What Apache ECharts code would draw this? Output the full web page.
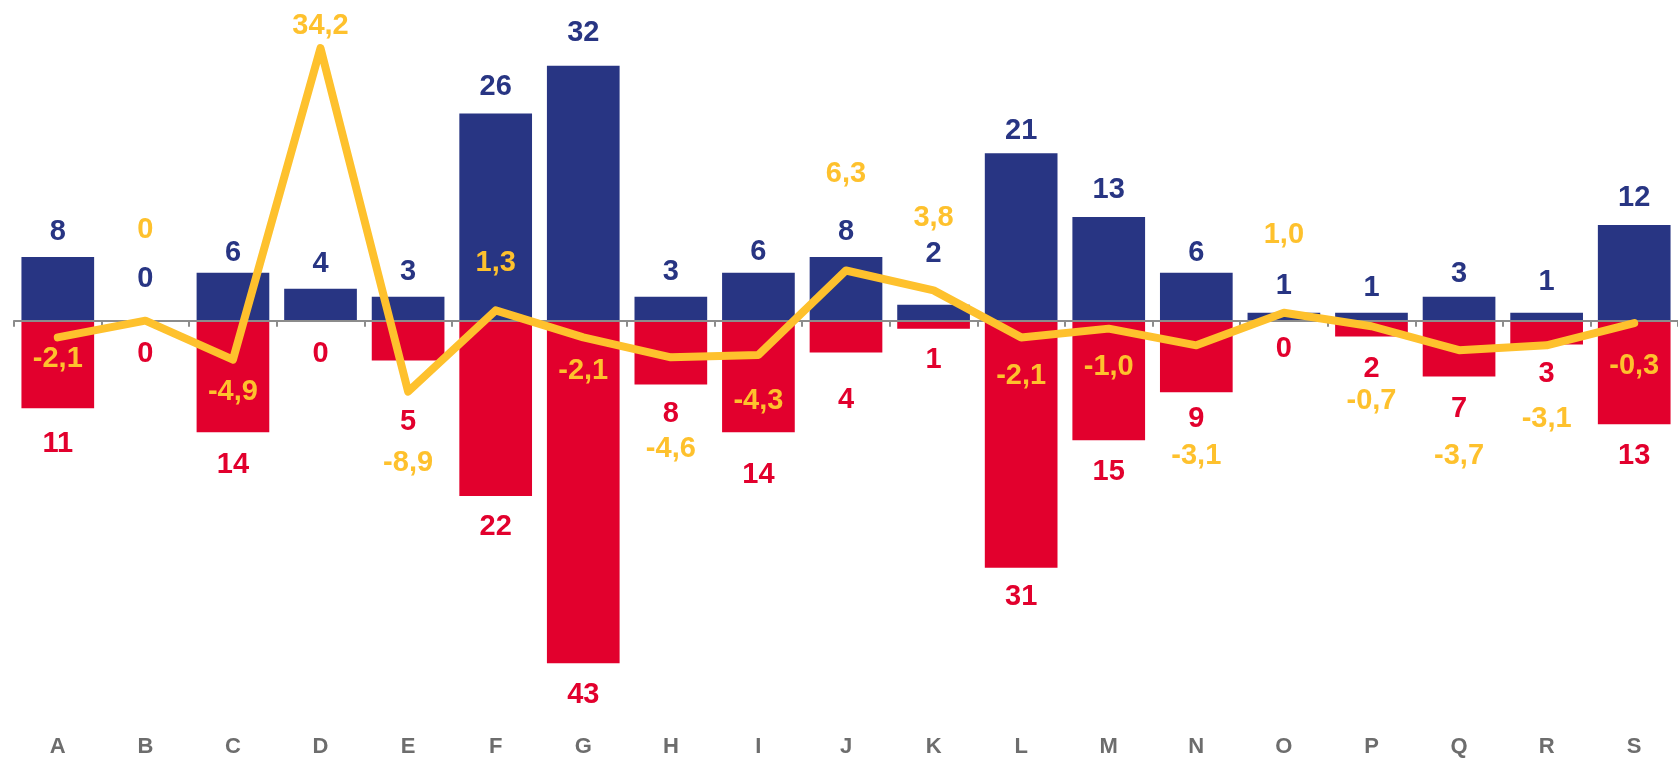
<!DOCTYPE html>
<html>
<head>
<meta charset="utf-8">
<script src="https://cdn.jsdelivr.net/npm/echarts@6/dist/echarts.min.js"></script>
<style>
  html, body { margin: 0; padding: 0; background: #fff; }
  #chart { width: 1678px; height: 759px; }
</style>
</head>
<body>
<div id="chart"></div>
<script>
// categories
const categories = ['A', 'B', 'C', 'D', 'E', 'F', 'G', 'H', 'I', 'J', 'K', 'L', 'M', 'N', 'O', 'P', 'Q', 'R', 'S'];
// blue bars (up)
const gainValues = [8, 0, 6, 4, 3, 26, 32, 3, 6, 8, 2, 21, 13, 6, 1, 1, 3, 1, 12];
// red bars (drawn downward, labelled as positive)
const lossValues = [11, 0, 14, 0, 5, 22, 43, 8, 14, 4, 1, 31, 15, 9, 0, 2, 7, 3, 13];
// yellow line
const netValues = [-2.1, 0, -4.9, 34.2, -8.9, 1.3, -2.1, -4.6, -4.3, 6.3, 3.8, -2.1, -1.0, -3.1, 1.0, -0.7, -3.7, -3.1, -0.3];

// hand placed labels, like in the original (px, + = down)
const lineLabelDy = [22, -91, 32, -22, 71, -47, 34, 92, 46, -96, -72, 39, 38, 111, -78, 75, 106, 74, 43];
const gainLabelDy = [0, -17, 5, 0, 0, -2, -8, 0, 4, 0, -26, 2, -3, 5, -2, 0, 2, -6, -3];
const lossLabelDy = [4, 2, 1, 2, 30, 0, 0, -2, 11, 16, 0, -2, 0, -5, -3, 1, 1, -2, 0];

const BLUE = '#283583';
const RED = '#e2002d';
const YELLOW = '#fec12d';
const FONT = '"Liberation Sans", Arial, sans-serif';

const chart = echarts.init(document.getElementById('chart'));

const fmtNet = v => (v === 0 ? '0' : v.toFixed(1).replace('.', ','));

const option = {
  animation: false,
  grid: { left: 14, right: -8, top: 2, height: 717 },
  xAxis: [
    {
      type: 'category',
      data: categories,
      position: 'bottom',
      z: 3,
      axisLine: { onZero: true, lineStyle: { color: '#8c8c8c', width: 2 } },
      axisTick: { show: true, length: 6, lineStyle: { color: '#8c8c8c', width: 2 } },
      axisLabel: { show: false }
    },
    {
      type: 'category',
      data: categories,
      position: 'bottom',
      axisLine: { show: false, onZero: false },
      axisTick: { show: false },
      axisLabel: {
        margin: 17,
        color: '#6d6d6d',
        fontSize: 22,
        fontWeight: 'bold',
        fontFamily: FONT
      }
    }
  ],
  yAxis: {
    type: 'value',
    min: -50,
    max: 40,
    show: false,
    splitLine: { show: false }
  },
  series: [
    {
      name: 'up',
      type: 'bar',
      xAxisIndex: 0,
      data: gainValues.map((v, i) => ({
        value: v,
        label: { offset: [0, gainLabelDy[i]] }
      })),
      barWidth: '83%',
      barGap: '-100%',
      itemStyle: { color: BLUE },
      label: {
        show: true,
        position: 'top',
        distance: 10,
        color: BLUE,
        fontSize: 29,
        fontWeight: 'bold',
        fontFamily: FONT
      }
    },
    {
      name: 'down',
      type: 'bar',
      xAxisIndex: 0,
      data: lossValues.map((v, i) => ({
        value: -v,
        label: { offset: [0, lossLabelDy[i]] }
      })),
      barWidth: '83%',
      barGap: '-100%',
      itemStyle: { color: RED },
      label: {
        show: true,
        position: 'bottom',
        distance: 17,
        color: RED,
        fontSize: 29,
        fontWeight: 'bold',
        fontFamily: FONT,
        formatter: p => String(Math.abs(p.value))
      }
    },
    {
      name: 'net',
      type: 'line',
      xAxisIndex: 0,
      z: 10,
      data: netValues.map((v, i) => ({
        value: v,
        label: { offset: [0, lineLabelDy[i]] }
      })),
      symbol: 'circle',
      symbolSize: 1,
      itemStyle: { color: YELLOW },
      lineStyle: { color: YELLOW, width: 8, cap: 'round', join: 'round' },
      label: {
        show: true,
        position: 'inside',
        color: YELLOW,
        fontSize: 29,
        fontWeight: 'bold',
        fontFamily: FONT,
        formatter: p => fmtNet(p.value)
      }
    }
  ]
};

chart.setOption(option);
</script>
</body>
</html>
